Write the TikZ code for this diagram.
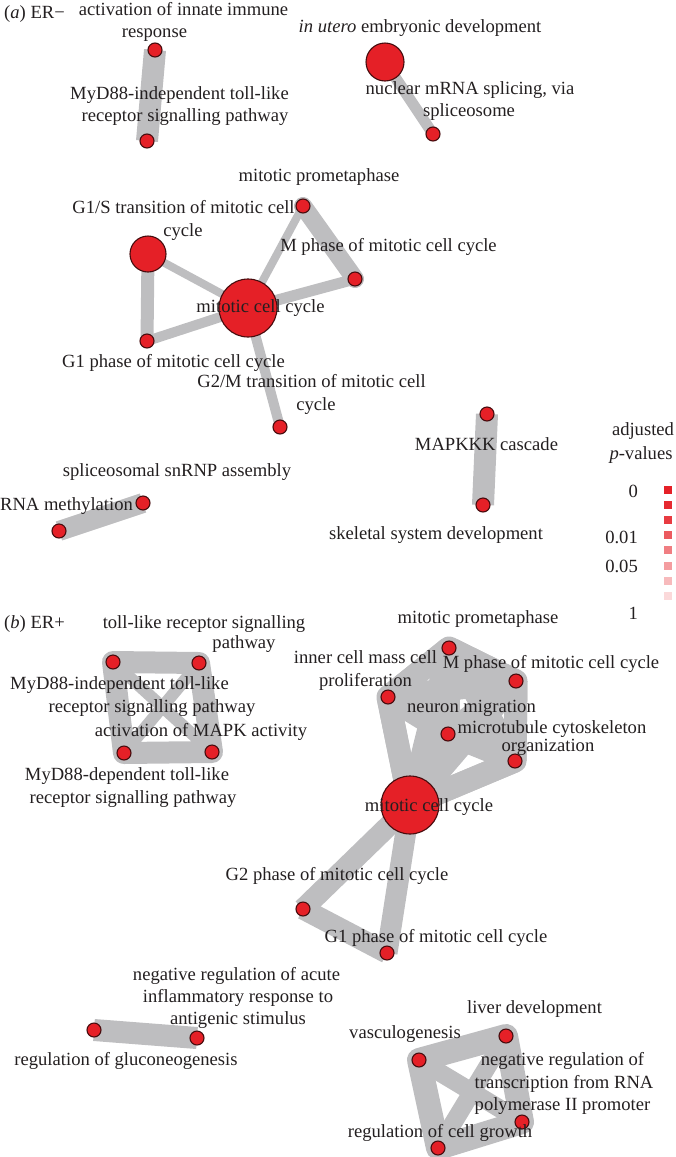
\documentclass[tikz,border=0pt]{standalone}
\usepackage{fontspec}
\setmainfont{Liberation Serif}
\usetikzlibrary{backgrounds}

\definecolor{termred}{RGB}{229,32,39}
\definecolor{termline}{RGB}{70,12,14}
\definecolor{linkgray}{RGB}{190,190,192}
\definecolor{inkgray}{RGB}{35,31,32}

\begin{document}
\begin{tikzpicture}[x=1pt,y=-1pt]

  \useasboundingbox (0,0) rectangle (675,1157);

  % node styles
  \tikzstyle{Term}=[
  circle,draw=termline,fill=termred,
  line width=1.1pt,inner sep=0pt,minimum size=14pt]
  \tikzstyle{Label}=[font=\fontsize{18.6}{22}\selectfont,text=inkgray,
  inner sep=0pt,anchor=base]
  \tikzstyle{Key}=[rectangle,inner sep=0pt,minimum size=8pt]
  \tikzstyle{Link}=[draw=linkgray]
  \tikzstyle{Ring}=[draw=linkgray,line join=round]

  % ---------------- (a) ER-
  \node[Term] (act)   at (155, 50) {};
  \node[Term] (mydIa) at (147,141) {};
  \node[Term,minimum size=38pt] (utero) at (385, 62) {};
  \node[Term] (nucl)  at (433,134) {};
  \node[Term] (prom)  at (303,206) {};
  \node[Term,minimum size=36pt] (gls) at (148,254) {};
  \node[Term] (mph)   at (355,279) {};
  \node[Term,minimum size=58pt] (mcc) at (248,308) {};
  \node[Term] (gone)  at (147,341) {};
  \node[Term] (gtm)   at (280,427) {};
  \node[Term] (mapk)  at (487,414) {};
  \node[Term] (skel)  at (483,505) {};
  \node[Term] (snrnp) at (143,503) {};
  \node[Term] (rnam)  at ( 59,531) {};

  % ---------------- (b) ER+
  \node[Term] (tlr)   at (199,663) {};
  \node[Term] (mydIb) at (113,662) {};
  \node[Term] (mapka) at (212,752) {};
  \node[Term] (mydD)  at (124,753) {};
  \node[Term] (promb) at (449,648) {};
  \node[Term] (icm)   at (388,697) {};
  \node[Term] (mphb)  at (516,681) {};
  \node[Term] (neur)  at (448,734) {};
  \node[Term] (mtub)  at (515,761) {};
  \node[Term,minimum size=58pt] (mccb) at (410,805) {};
  \node[Term] (gtwo)  at (303,909) {};
  \node[Term] (goneb) at (387,953) {};
  \node[Term] (gluc)  at ( 94,1030) {};
  \node[Term] (acute) at (197,1038) {};
  \node[Term] (liver) at (506,1036) {};
  \node[Term] (vasc)  at (419,1060) {};
  \node[Term] (ntrans) at (522,1122) {};
  \node[Term] (growth) at (438,1148) {};

  % links
  \begin{scope}[on background layer]
    \draw[Link,line width=22pt] (act.center) -- (mydIa.center);
    \draw[Link,line width=11pt] (utero.center) -- (nucl.center);
    \draw[Link,line width=8pt]  (gls.center) -- (mcc.center);
    \draw[Link,line width=13pt] (gls.center) -- (gone.center);
    \draw[Link,line width=10pt] (gone.center) -- (mcc.center);
    \draw[Link,line width=8pt]  (mcc.center) -- (prom.center);
    \draw[Link,line width=11pt] (mcc.center) -- (mph.center);
    \draw[Link,line width=18pt,line cap=round] (prom.center) -- (mph.center);
    \draw[Link,line width=10pt] (mcc.center) -- (gtm.center);
    \draw[Link,line width=22pt] (mapk.center) -- (skel.center);
    \draw[Link,line width=20pt] (snrnp.center) -- (rnam.center);

    \draw[Ring,line width=22pt] (mydIb.center) -- (tlr.center)
      -- (mapka.center) -- (mydD.center) -- cycle;
    \foreach \a/\b in {mydIb/mapka,tlr/mydD}
      \draw[Link,line width=12pt] (\a.center) -- (\b.center);

    \foreach \a/\b in {mccb/promb,mccb/icm,mccb/mphb,mccb/neur,mccb/mtub,
      promb/icm,promb/mphb,promb/neur,promb/mtub,icm/mphb,icm/neur,icm/mtub,
      mphb/neur,mphb/mtub,neur/mtub}
      \draw[Link,line width=23pt] (\a.center) -- (\b.center);
    \draw[Ring,line width=23pt] (promb.center) -- (mphb.center)
      -- (mtub.center) -- (mccb.center) -- (icm.center) -- cycle;
    \foreach \a/\b in {mccb/gtwo,mccb/goneb,gtwo/goneb}
      \draw[Link,line width=21pt] (\a.center) -- (\b.center);

    \draw[Link,line width=22pt] (gluc.center) -- (acute.center);

    \draw[Ring,line width=24pt] (vasc.center) -- (liver.center)
      -- (ntrans.center) -- (growth.center) -- cycle;
    \foreach \a/\b in {vasc/ntrans,liver/growth}
      \draw[Link,line width=18pt] (\a.center) -- (\b.center);
  \end{scope}

  % labels (a)
  \node[Label,anchor=base west] (tagA) at (4,18) {(\textit{a}) ER−};
  \node[Label] (actA)  at (183.5, 15) {activation of innate immune};
  \node[Label] (actB)  at (154.5, 37) {response};
  \node[Label] (myaA)  at (179.5, 99) {MyD88-independent toll-like};
  \node[Label] (myaB)  at (185,  121) {receptor signalling pathway};
  \node[Label] (uteroL) at (420, 32) {\textit{in utero} embryonic development};
  \node[Label] (nuclA) at (470,  94) {nuclear mRNA splicing, via};
  \node[Label] (nuclB) at (469, 116) {spliceosome};
  \node[Label] (promL) at (319, 181) {mitotic prometaphase};
  \node[Label] (glsA)  at (183.5,213) {G1/S transition of mitotic cell};
  \node[Label] (glsB)  at (183, 236) {cycle};
  \node[Label] (mphL)  at (388.5,251) {M phase of mitotic cell cycle};
  \node[Label] (mccL)  at (260.5,312) {mitotic cell cycle};
  \node[Label] (goneL) at (173.5,367) {G1 phase of mitotic cell cycle};
  \node[Label] (gtmA)  at (311.5,387) {G2/M transition of mitotic cell};
  \node[Label] (gtmB)  at (316, 410) {cycle};
  \node[Label] (mapkL) at (486.5,450) {MAPKKK cascade};
  \node[Label] (skelL) at (436, 539) {skeletal system development};
  \node[Label] (snrnpL) at (177,476) {spliceosomal snRNP assembly};
  \node[Label] (rnamL) at (66.5,510) {RNA methylation};

  % legend
  \node[Label] (keyA) at (643,435) {adjusted};
  \node[Label] (keyB) at (641,459) {\textit{p}-values};
  \foreach \i/\c in {0/100,1/96,2/88,3/74,4/58,5/44,6/31,7/17}
    \node[Key,fill=termred!\c] (key\i) at (667.5,{490+15.1*\i}) {};
  \node[Label,anchor=base east] (keyZero) at (638,497) {0};
  \node[Label,anchor=base east] (keyOne)  at (638,543) {0.01};
  \node[Label,anchor=base east] (keyFive) at (638,572) {0.05};
  \node[Label,anchor=base east] (keyAll)  at (638,619) {1};

  % labels (b)
  \node[Label,anchor=base west] (tagB) at (4,628) {(\textit{b}) ER+};
  \node[Label] (tlrA)  at (204, 628) {toll-like receptor signalling};
  \node[Label] (tlrB)  at (244, 648) {pathway};
  \node[Label] (mybA)  at (119.5,689) {MyD88-independent toll-like};
  \node[Label] (mybB)  at (152, 712) {receptor signalling pathway};
  \node[Label] (mapkaL) at (201,736) {activation of MAPK activity};
  \node[Label] (mydA)  at (127, 780) {MyD88-dependent toll-like};
  \node[Label] (mydB)  at (133, 803) {receptor signalling pathway};
  \node[Label] (prombL) at (478,623) {mitotic prometaphase};
  \node[Label] (icmA)  at (365.5,663) {inner cell mass cell};
  \node[Label] (icmB)  at (365.5,686) {proliferation};
  \node[Label] (mphbL) at (551, 668) {M phase of mitotic cell cycle};
  \node[Label] (neurL) at (471.5,712) {neuron migration};
  \node[Label] (mtubA) at (552, 733) {microtubule cytoskeleton};
  \node[Label] (mtubB) at (548, 751) {organization};
  \node[Label] (mccbL) at (429, 811) {mitotic cell cycle};
  \node[Label] (gtwoL) at (337, 880) {G2 phase of mitotic cell cycle};
  \node[Label] (gonebL) at (436,942) {G1 phase of mitotic cell cycle};
  \node[Label] (acuteA) at (236.5,980) {negative regulation of acute};
  \node[Label] (acuteB) at (238,1002) {inflammatory response to};
  \node[Label] (acuteC) at (238,1024) {antigenic stimulus};
  \node[Label] (glucL) at (126,1065) {regulation of gluconeogenesis};
  \node[Label] (liverL) at (534.5,1013) {liver development};
  \node[Label] (vascL) at (405,1038) {vasculogenesis};
  \node[Label] (ntrA)  at (562.5,1065) {negative regulation of};
  \node[Label] (ntrB)  at (564,1088) {transcription from RNA};
  \node[Label] (ntrC)  at (562.5,1110) {polymerase II promoter};
  \node[Label] (growthL) at (440,1137) {regulation of cell growth};

\end{tikzpicture}
\end{document}
